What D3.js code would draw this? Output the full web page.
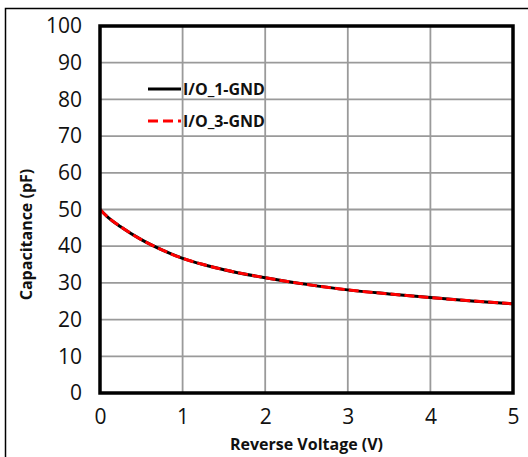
<!DOCTYPE html>
<html>
<head>
<meta charset="utf-8">
<script src="https://cdn.jsdelivr.net/npm/d3@7"></script>
<style>
  body { margin: 0; background: #fff; }
  text { font-family: "Open Sans", "Noto Sans", sans-serif; fill: #111; }
</style>
</head>
<body>
<script>
// Data
var voltage = [0, 0.1, 0.25, 0.5, 0.75, 1, 1.25, 1.5, 2, 2.5, 3, 3.5, 4, 4.5, 5];
var io1Gnd  = [50, 47.8, 45.3, 41.8, 39.0, 36.7, 35.0, 33.6, 31.4, 29.6, 28.1, 27.0, 26.0, 25.1, 24.3];
var io3Gnd  = [50, 47.8, 45.3, 41.8, 39.0, 36.7, 35.0, 33.6, 31.4, 29.6, 28.1, 27.0, 26.0, 25.1, 24.3];
var xTicks = [0, 1, 2, 3, 4, 5];
var yTicks = [0, 10, 20, 30, 40, 50, 60, 70, 80, 90, 100];

var W = 528, H = 457;
var margin = {top: 26, right: 15, bottom: 64, left: 100},
    width = W - margin.left - margin.right,
    height = H - margin.top - margin.bottom;

var svg = d3.select("body").append("svg")
    .attr("width", W)
    .attr("height", H);

// outer frame (only left and top edges visible in the picture)
svg.append("path")
    .attr("d", "M5.5," + H + " V8.5 H" + W)
    .attr("fill", "none")
    .attr("stroke", "#000")
    .attr("stroke-width", 1.5);

var g = svg.append("g")
    .attr("transform", "translate(" + margin.left + "," + margin.top + ")");

var x = d3.scaleLinear().domain([0, 5]).range([0, width]);
var y = d3.scaleLinear().domain([0, 100]).range([height, 0]);

// grid
g.selectAll("line.vgrid")
    .data(xTicks.slice(1, -1))
  .enter().append("line")
    .attr("class", "vgrid")
    .attr("x1", function(d) { return x(d); })
    .attr("x2", function(d) { return x(d); })
    .attr("y1", 0).attr("y2", height)
    .attr("stroke", "#9a9a9a").attr("stroke-width", 1.8);

g.selectAll("line.hgrid")
    .data(yTicks.slice(1, -1))
  .enter().append("line")
    .attr("class", "hgrid")
    .attr("y1", function(d) { return y(d); })
    .attr("y2", function(d) { return y(d); })
    .attr("x1", 0).attr("x2", width)
    .attr("stroke", "#9a9a9a").attr("stroke-width", 1.8);

// tick labels through d3 axes
var xAxis = g.append("g")
    .attr("transform", "translate(0," + height + ")")
    .call(d3.axisBottom(x).tickValues(xTicks).tickSize(0).tickPadding(16).tickFormat(d3.format("d")));
var yAxis = g.append("g")
    .call(d3.axisLeft(y).tickValues(yTicks).tickSize(0).tickPadding(18).tickFormat(d3.format("d")));

[xAxis, yAxis].forEach(function(a) {
  a.select(".domain").remove();
  a.selectAll("text")
    .style("font-family", "'Open Sans', 'Noto Sans', sans-serif")
    .style("font-size", "21px")
    .attr("fill", "#111");
});

// curves
var line = d3.line()
    .x(function(d) { return x(d[0]); })
    .y(function(d) { return y(d[1]); })
    .curve(d3.curveMonotoneX);

g.append("path")
    .datum(voltage.map(function(v, i) { return [v, io1Gnd[i]]; }))
    .attr("d", line)
    .attr("fill", "none")
    .attr("stroke", "#000")
    .attr("stroke-width", 3);

g.append("path")
    .datum(voltage.map(function(v, i) { return [v, io3Gnd[i]]; }))
    .attr("d", line)
    .attr("fill", "none")
    .attr("stroke", "#ff0000")
    .attr("stroke-width", 3)
    .attr("stroke-dasharray", "10,4");

// plot frame
g.append("rect")
    .attr("width", width).attr("height", height)
    .attr("fill", "none")
    .attr("stroke", "#000")
    .attr("stroke-width", 3.5);

// legend
var legend = svg.append("g").attr("transform", "translate(148,89)");
var items = [
  {name: "I/O_1-GND", color: "#000", dash: null},
  {name: "I/O_3-GND", color: "#ff0000", dash: "10,5"}
];
var li = legend.selectAll("g").data(items).enter().append("g")
    .attr("transform", function(d, i) { return "translate(0," + (i * 32) + ")"; });
li.append("line")
    .attr("x1", 0).attr("x2", 33)
    .attr("stroke", function(d) { return d.color; })
    .attr("stroke-width", 3)
    .attr("stroke-dasharray", function(d) { return d.dash; });
li.append("text")
    .attr("x", 35).attr("y", 6)
    .style("font-size", "16px")
    .style("font-weight", "bold")
    .text(function(d) { return d.name; });

// axis titles
svg.append("text")
    .attr("x", margin.left + width / 2)
    .attr("y", 450)
    .attr("text-anchor", "middle")
    .style("font-size", "16px")
    .style("font-weight", "bold")
    .text("Reverse Voltage (V)");

svg.append("text")
    .attr("transform", "translate(32," + (margin.top + height / 2 + 25) + ") rotate(-90)")
    .attr("text-anchor", "middle")
    .style("font-size", "16px")
    .style("font-weight", "bold")
    .text("Capacitance (pF)");
</script>
</body>
</html>
